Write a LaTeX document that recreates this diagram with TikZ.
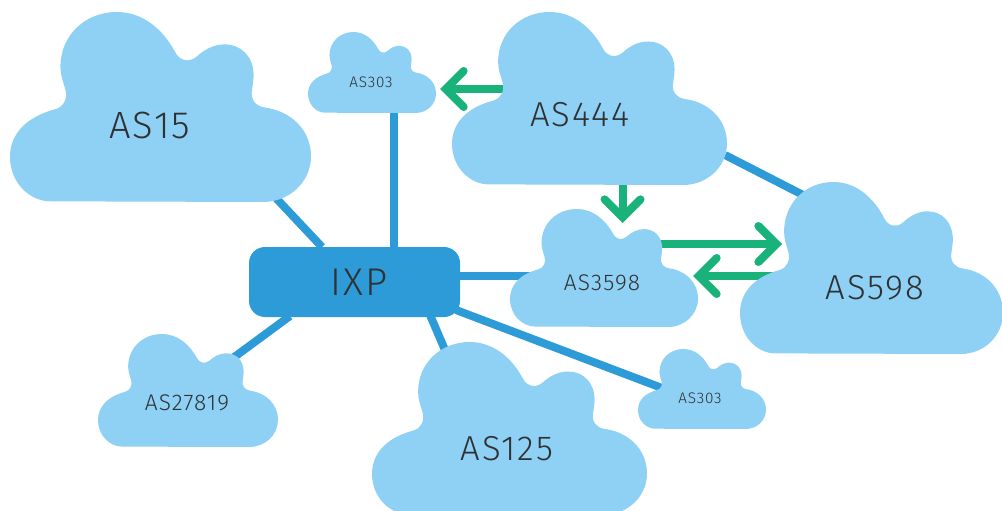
\documentclass[tikz,border=0pt]{standalone}
\usepackage{fontspec}
\setmainfont[LetterSpace=5]{Fira Sans Light}
\usetikzlibrary{arrows.meta,calc}
\definecolor{cloudblue}{HTML}{8FD0F5}
\definecolor{linkblue}{HTML}{2E9BD9}
\definecolor{flowgreen}{HTML}{19B27B}
\definecolor{inkgrey}{HTML}{2F3133}
\pgfdeclarelayer{back}
\pgfsetlayers{back,main}
\tikzset{
  link/.style={draw=linkblue,line width=6pt},
  flow/.style={draw=flowgreen,line width=6pt,-{Straight Barb[length=13.5pt,width=27pt,line cap=round,line join=miter]}},
  label/.style={text=inkgrey,inner sep=0pt,anchor=center},
  hub/.style={fill=linkblue,rounded corners=12pt,minimum width=158.25pt,minimum height=52.5pt,inner sep=0pt,text=inkgrey}
}
% #1 name, #2 x, #3 y, #4 w, #5 h, #6 label x, #7 label y, #8 font px, #9 text
\newcommand{\cloudnode}[9]{%
  \begin{scope}[shift={(#2,#3)},xscale=#4/907,yscale=#5/569,shift={(-28,-36)}]
    \fill[cloudblue] (150,603) -- (790,605)
      .. controls (870,605) and (935,545) .. (935,468)
      .. controls (935,390) and (875,332) .. (795,322)
      .. controls (770,318) and (752,300) .. (757,270)
      .. controls (760,250) and (762,240) .. (762,225)
      .. controls (762,170) and (725,133) .. (675,133)
      .. controls (640,133) and (612,150) .. (590,170)
      .. controls (570,187) and (540,185) .. (525,155)
      .. controls (490,90) and (430,36) .. (350,36)
      .. controls (255,36) and (180,105) .. (180,200)
      .. controls (180,225) and (188,245) .. (195,268)
      .. controls (202,295) and (190,320) .. (165,327)
      .. controls (85,348) and (28,395) .. (28,470)
      .. controls (28,545) and (85,603) .. (150,603) -- cycle;
  \end{scope}
  \node[label,font=\fontsize{#8}{#8}\selectfont] (#1) at (#6,#7) {#9};
}
\begin{document}
\begin{tikzpicture}[x=0.75pt,y=-0.75pt]
\useasboundingbox (0,0) rectangle (1002,510);
\clip (0,0) rectangle (1002,510);
\cloudnode{asA}{10}{12}{301}{190}{150}{125}{28.5}{AS15}
\cloudnode{asB}{308}{32}{128}{81}{371}{82.5}{11.5}{AS303}
\cloudnode{asC}{452}{12}{275}{173}{580}{115}{26}{AS444}
\cloudnode{asD}{510}{209}{188}{118}{602}{283}{17}{AS3598}
\cloudnode{asE}{740}{182}{263}{172}{875}{288}{26}{AS598}
\cloudnode{asF}{98}{334}{180}{113}{187}{403}{17}{AS27819}
\cloudnode{asG}{372}{342}{275}{173}{507}{449}{26}{AS125}
\cloudnode{asH}{638}{349}{128}{80}{700}{398}{11.5}{AS303}
\node[hub,font=\fontsize{29}{29}\selectfont] (ixp) at (354.5,282) {\hspace*{6.5pt}IXP};
\begin{pgfonlayer}{back}
  \draw[link] ([shift={(125,72)}]asA.center) -- ([shift={(-32.5,-35)}]ixp.center);
  \draw[link] ([shift={(23,28)}]asB.center) -- ([shift={(39.5,-32)}]ixp.center);
  \draw[link] ([shift={(46,-45)}]asF.center) -- ([shift={(-64.5,34)}]ixp.center);
  \draw[link] ([shift={(-62,-99)}]asG.center) -- ([shift={(75.5,33)}]ixp.center);
  \draw[link] ([shift={(-38,-10)}]asH.center) -- ([shift={(101.5,28)}]ixp.center);
  \draw[link] ([shift={(-72,-7)}]asD.center) -- ([shift={(100.5,-6)}]ixp.center);
  \draw[link] ([shift={(145,40)}]asC.center) -- ([shift={(-70,-92)}]asE.center);
  \draw[flow] ([shift={(-75,-26)}]asC.center) -- ([shift={(69,6.5)}]asB.center);
  \draw[flow] ([shift={(42.5,65)}]asC.center) -- ([shift={(20.5,-60)}]asD.center);
  \draw[flow] ([shift={(58,-39)}]asD.center) -- ([shift={(-93,-44)}]asE.center);
  \draw[flow] ([shift={(-95,-12)}]asE.center) -- ([shift={(91,-7)}]asD.center);
\end{pgfonlayer}
\end{tikzpicture}
\end{document}
